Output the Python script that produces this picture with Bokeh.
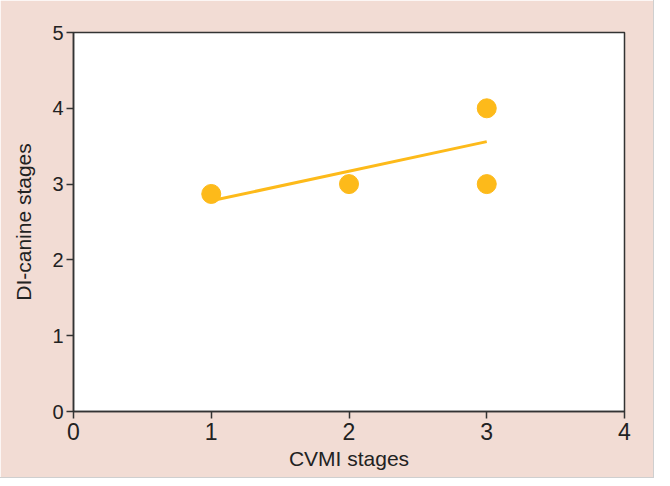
from bokeh.plotting import figure
from bokeh.models import Range1d, FixedTicker
from bokeh.embed import file_html
from bokeh.resources import INLINE

cvmi = [1, 2, 3, 3]
di_canine = [2.87, 3.0, 4.0, 3.0]
trend_x = [1, 3]
trend_y = [2.78, 3.56]
x_ticks = [0, 1, 2, 3, 4]
y_ticks = [0, 1, 2, 3, 4, 5]

PINK = "#F2DCD4"
GOLD = "#FDBA1A"
FONT = "Liberation Sans"

p = figure(width=653, height=477, output_backend="svg", toolbar_location=None,
           x_range=Range1d(0, 4), y_range=Range1d(0, 5),
           min_border_left=73, min_border_right=29, min_border_top=32, min_border_bottom=66)
p.styles = {"outline": "1px solid #cfcfcf"}
p.border_fill_color = PINK
p.background_fill_color = "white"
p.outline_line_color = "#333333"
p.outline_line_width = 1.5
p.grid.visible = False

p.line(trend_x, trend_y, line_color=GOLD, line_width=3)
p.scatter(cvmi, di_canine, size=19, fill_color=GOLD, line_color=GOLD)

for ax, ticks, label in ((p.xaxis[0], x_ticks, "CVMI stages"), (p.yaxis[0], y_ticks, "DI-canine stages")):
    ax.ticker = FixedTicker(ticks=ticks)
    ax.axis_label = label
    ax.axis_label_text_font = FONT
    ax.axis_label_text_font_size = "21px"
    ax.axis_label_text_font_style = "normal"
    ax.axis_label_text_color = "#222222"
    ax.major_label_text_font = FONT
    ax.major_label_text_color = "#222222"
    ax.axis_line_color = "#333333"
    ax.axis_line_width = 1.5
    ax.major_tick_line_color = "#333333"
    ax.major_tick_line_width = 1.5
    ax.major_tick_out = 7
    ax.major_tick_in = 0
    ax.minor_tick_line_color = None

p.xaxis[0].major_label_text_font_size = "23px"
p.yaxis[0].major_label_text_font_size = "20px"
p.xaxis[0].major_label_standoff = 4
p.xaxis[0].axis_label_standoff = 4
p.yaxis[0].major_label_standoff = 3
p.yaxis[0].axis_label_standoff = 14
p.yaxis[0].major_label_orientation = "horizontal"

open("out.html", "w").write(file_html(p, INLINE))
